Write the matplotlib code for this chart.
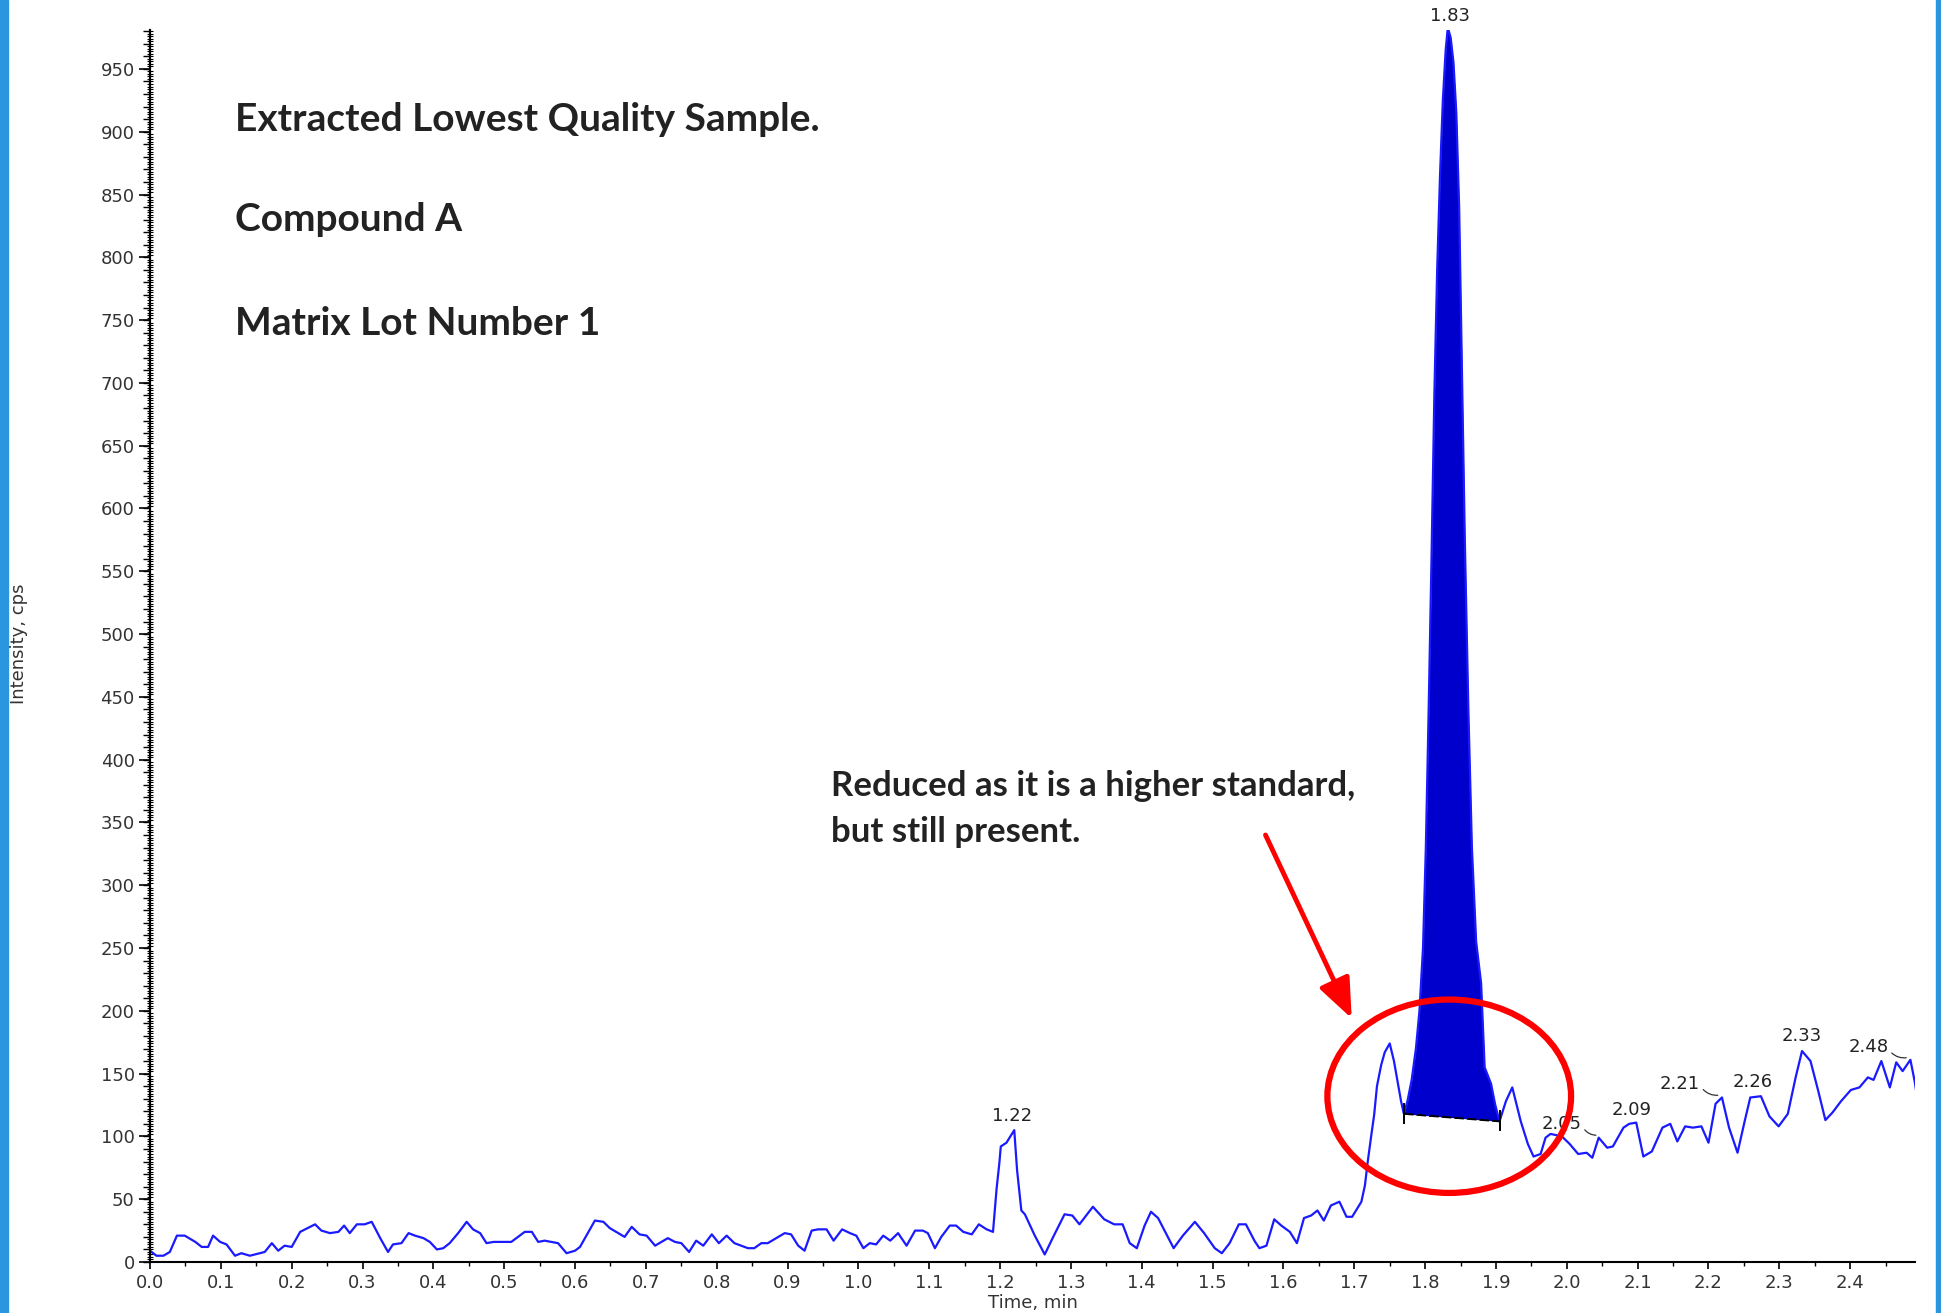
import numpy as np
import matplotlib.pyplot as plt
from matplotlib.patches import Ellipse, Rectangle
from matplotlib.ticker import MultipleLocator

# Chromatogram trace (time in min, intensity in cps)
time_min = [
    0.000, 0.009, 0.019, 0.028, 0.038, 0.049, 0.064, 0.073, 0.082, 0.089,
    0.099, 0.108, 0.120, 0.129, 0.141, 0.155, 0.162, 0.172, 0.181, 0.190,
    0.200, 0.212, 0.219, 0.233, 0.242, 0.254, 0.266, 0.274, 0.282, 0.292,
    0.303, 0.313, 0.325, 0.336, 0.343, 0.355, 0.365, 0.374, 0.386, 0.395,
    0.405, 0.414, 0.423, 0.435, 0.447, 0.456, 0.466, 0.475, 0.485, 0.510,
    0.529, 0.539, 0.548, 0.557, 0.576, 0.588, 0.600, 0.607, 0.616, 0.628,
    0.640, 0.649, 0.661, 0.670, 0.680, 0.691, 0.701, 0.713, 0.731, 0.741,
    0.750, 0.761, 0.771, 0.781, 0.793, 0.803, 0.814, 0.825, 0.844, 0.853,
    0.863, 0.872, 0.896, 0.905, 0.915, 0.924, 0.934, 0.943, 0.955, 0.965,
    0.977, 0.988, 0.997, 1.007, 1.016, 1.025, 1.035, 1.045, 1.056, 1.068,
    1.080, 1.091, 1.098, 1.108, 1.117, 1.129, 1.138, 1.148, 1.160, 1.170,
    1.181, 1.190, 1.195, 1.199, 1.201, 1.209, 1.220, 1.224, 1.230, 1.235,
    1.249, 1.263, 1.275, 1.291, 1.302, 1.312, 1.331, 1.347, 1.361, 1.373,
    1.383, 1.393, 1.404, 1.413, 1.423, 1.445, 1.458, 1.475, 1.488, 1.503,
    1.513, 1.524, 1.537, 1.547, 1.559, 1.566, 1.576, 1.587, 1.597, 1.609,
    1.619, 1.629, 1.639, 1.648, 1.657, 1.667, 1.679, 1.689, 1.697, 1.710,
    1.715, 1.719, 1.724, 1.728, 1.732, 1.738, 1.743, 1.750, 1.756, 1.761,
    1.766,
    # integrated peak
    1.770, 1.775, 1.781, 1.787, 1.792, 1.797, 1.801, 1.805, 1.809, 1.813,
    1.817, 1.821, 1.825, 1.829, 1.832, 1.836, 1.840, 1.844, 1.848, 1.852,
    1.856, 1.861, 1.866, 1.872, 1.879, 1.884, 1.893, 1.899, 1.905,
    # after peak
    1.914, 1.923, 1.935, 1.945, 1.953, 1.963, 1.970, 1.977, 1.993, 2.004,
    2.016, 2.028, 2.036, 2.045, 2.057, 2.065, 2.080, 2.088, 2.098, 2.108,
    2.120, 2.135, 2.146, 2.156, 2.167, 2.178, 2.190, 2.200, 2.210, 2.219,
    2.229, 2.241, 2.251, 2.259, 2.274, 2.286, 2.299, 2.312, 2.323, 2.332,
    2.344, 2.355, 2.365, 2.375, 2.387, 2.401, 2.413, 2.425, 2.433, 2.444,
    2.456, 2.465, 2.474, 2.485, 2.491, 2.494,
]
intensity_cps = [
    9, 5, 5, 8, 21, 21, 16, 12, 12, 21,
    16, 14, 5, 7, 5, 7, 8, 15, 9, 13,
    12, 24, 26, 30, 25, 23, 24, 29, 23, 30,
    30, 32, 19, 8, 14, 15, 23, 21, 19, 16,
    10, 11, 15, 23, 32, 26, 23, 15, 16, 16,
    24, 24, 16, 17, 15, 7, 9, 12, 21, 33,
    32, 27, 23, 20, 28, 22, 21, 13, 19, 16,
    15, 8, 17, 13, 22, 15, 21, 15, 11, 11,
    15, 15, 23, 22, 13, 9, 25, 26, 26, 17,
    26, 23, 21, 11, 15, 14, 21, 17, 23, 13,
    25, 25, 23, 11, 20, 29, 29, 24, 22, 30,
    26, 24, 58, 79, 92, 95, 105, 73, 41, 38,
    21, 6, 20, 38, 37, 30, 44, 34, 30, 30,
    15, 11, 29, 40, 35, 11, 21, 32, 23, 11,
    7, 15, 30, 30, 17, 11, 13, 34, 29, 24,
    15, 35, 37, 41, 33, 45, 48, 36, 36, 48,
    61, 80, 101, 117, 140, 157, 167, 174, 160, 144,
    128,
    118, 128, 145, 170, 200, 250, 330, 440, 560, 690,
    790, 865, 925, 965, 983, 975, 955, 915, 840, 710,
    575, 440, 330, 255, 222, 155, 142, 125, 112,
    128, 139, 112, 94, 84, 86, 99, 102, 100, 94,
    86, 87, 83, 99, 91, 92, 107, 110, 111, 84,
    88, 107, 110, 96, 108, 107, 108, 95, 126, 131,
    107, 87, 112, 131, 132, 116, 108, 118, 147, 168,
    160, 136, 113, 119, 128, 137, 139, 147, 145, 160,
    139, 159, 152, 161, 144, 133,
]

# integration window and baseline of the 1.83 peak
peak_start, peak_end = 1.770, 1.905
base_start, base_end = 118, 112

# retention-time labels: (text, text x, text y, peak x, peak y)
rt_labels = [
    ("1.22", 1.217, 116, None, None),
    ("1.83", 1.835, 992, None, None),
    ("2.05", 1.993, 110, 2.045, 101),
    ("2.09", 2.091, 121, None, None),
    ("2.21", 2.160, 142, 2.217, 133),
    ("2.26", 2.263, 143, None, None),
    ("2.33", 2.331, 180, None, None),
    ("2.48", 2.426, 171, 2.483, 163),
]

t = np.array(time_min)
y = np.array(intensity_cps, dtype=float)

fig = plt.figure(figsize=(19.41, 13.13), dpi=100)
ax = fig.add_axes([150 / 1941, 51 / 1313, 1765 / 1941, 1232 / 1313])

ax.plot(t, y, color='#1a1aff', lw=1.6)

mask = (t >= peak_start) & (t <= peak_end)
base = np.interp(t[mask], [peak_start, peak_end], [base_start, base_end])
ax.fill_between(t[mask], base, y[mask], color='#0000cc', lw=0)
ax.plot([peak_start, peak_end], [base_start, base_end], color='black', lw=1.4,
        linestyle=(0, (5, 1.5)))
ax.plot([peak_start, peak_start], [base_start - 7, base_start + 8], color='black', lw=1.4)
ax.plot([peak_end, peak_end], [base_end - 7, base_end + 8], color='black', lw=1.4)

for lab, tx, ty, px, py in rt_labels:
    ax.text(tx, ty, lab, ha='center', va='center', fontsize=13, color='#222222',
            clip_on=False)
    if px is not None:
        ax.annotate('', xy=(px, py), xytext=(tx + 0.030, ty - 3),
                    arrowprops=dict(arrowstyle='-', lw=0.9, color='#333333',
                                    connectionstyle='arc3,rad=0.3'))

ax.set_xlim(0, 2.4915)
ax.set_ylim(0, 981)
ax.spines['top'].set_visible(False)
ax.spines['right'].set_visible(False)
ax.spines['left'].set_linewidth(1.5)
ax.spines['bottom'].set_linewidth(1.5)

ax.xaxis.set_minor_locator(MultipleLocator(0.05))
ax.set_xticks(np.round(np.arange(0, 2.45, 0.1), 1))
ax.set_xticklabels([f"{v:.1f}" for v in np.arange(0, 2.45, 0.1)])
ax.tick_params(axis='x', which='major', length=5, width=1.2, pad=4, labelsize=13,
               labelcolor='#333333')
ax.tick_params(axis='x', which='minor', length=3, width=1.0)

ax.yaxis.set_minor_locator(MultipleLocator(2))
ax.set_yticks(np.arange(0, 951, 50))
ax.tick_params(axis='y', which='major', length=8, width=1.2, pad=3, labelsize=13,
               labelcolor='#333333')
ax.tick_params(axis='y', which='minor', length=4, width=0.8, direction='inout')

sec = ax.secondary_yaxis('left')
sec.set_yticks(np.arange(0, 981, 10))
sec.tick_params(axis='y', length=5, width=1.0, labelleft=False)
sec.spines['left'].set_linewidth(1.5)

ax.set_xlabel('Time, min', fontsize=13, color='#333333', labelpad=1)
fig.text(19 / 1941, 1 - 644 / 1313, 'Intensity, cps', rotation=90, fontsize=13,
         color='#333333', ha='center', va='center')

# slide annotations
big = dict(fontsize=28, fontweight='bold', family='Lato', color='#222222', va='center')
ax.text(0.12, 910, 'Extracted Lowest Quality Sample.', **big)
ax.text(0.12, 830, 'Compound A', **big)
ax.text(0.12, 747, 'Matrix Lot Number 1', **big)
note = dict(fontsize=25, fontweight='bold', family='Lato', color='#222222', va='center')
ax.text(0.961, 379, 'Reduced as it is a higher standard,', **note)
ax.text(0.961, 342, 'but still present.', **note)

ax.add_patch(Ellipse((1.834, 132), 0.344, 154, fill=False, edgecolor='red',
                     lw=4.5, zorder=5))
ax.annotate('', xy=(1.698, 192), xytext=(1.573, 342),
            arrowprops=dict(arrowstyle='-|>,head_length=1.1,head_width=0.45',
                            lw=3.5, color='red', mutation_scale=22), zorder=5)

# blue slide edges
fig.patches.append(Rectangle((0, 0), 8 / 1941, 1, transform=fig.transFigure,
                             color='#2a96e0', zorder=0))
fig.patches.append(Rectangle((1 - 5 / 1941, 0), 5 / 1941, 1,
                             transform=fig.transFigure, color='#2a96e0', zorder=0))

fig.savefig('out.png', dpi=100)
